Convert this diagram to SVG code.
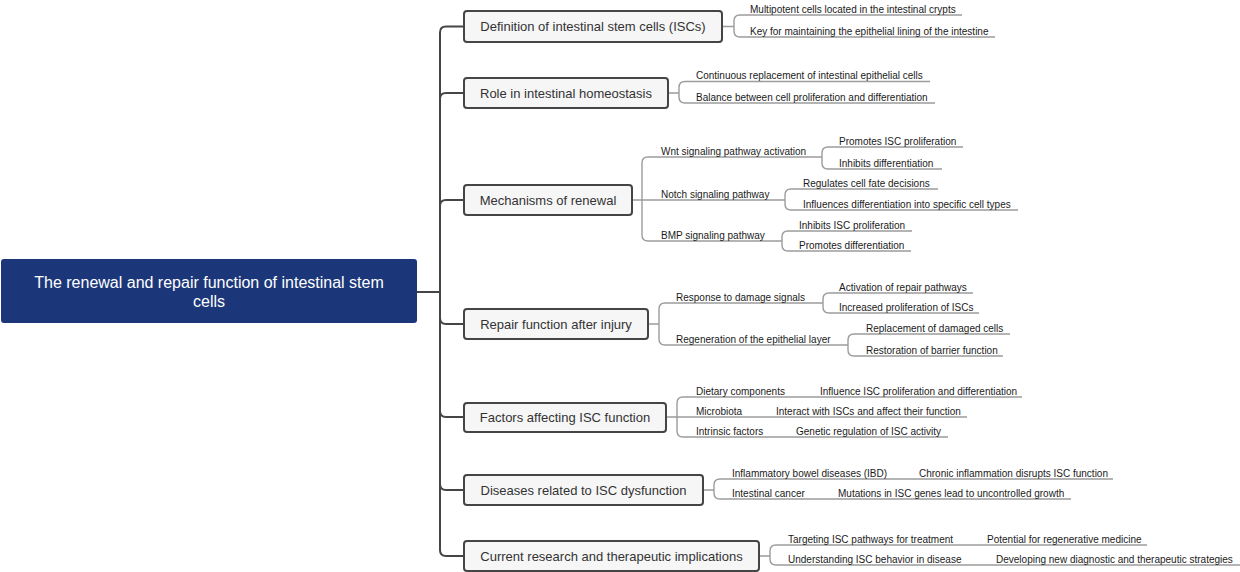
<svg xmlns="http://www.w3.org/2000/svg" width="1240" height="572" viewBox="0 0 1240 572">
<style>
.bg{fill:#ffffff}
.root{fill:#1b377a}
.rt{font-family:"Liberation Sans",Arial,sans-serif;font-size:16px;fill:#ffffff;text-anchor:middle}
.box{fill:#f6f6f6;stroke:#454545;stroke-width:2}
.bt{font-family:"Liberation Sans",Arial,sans-serif;font-size:13px;fill:#333333;text-anchor:middle}
.lt{font-family:"Liberation Sans",Arial,sans-serif;font-size:10px;fill:#1a1a1a}
.spine{fill:none;stroke:#454545;stroke-width:2}
.br{fill:none;stroke:#9c9c9c;stroke-width:1.4}
</style>
<rect class="bg" x="0" y="0" width="1240" height="572"/>
<g id="connectors">
<path class="spine" d="M417 292H440M440 292V32.5Q440 26.5 446 26.5H464M440 292V99Q440 93 446 93H464M440 292V206Q440 200 446 200H464M440 292V318Q440 324 446 324H464M440 292V411Q440 417 446 417H464M440 292V484Q440 490 446 490H464M440 292V550Q440 556 446 556H464"/>
<path class="br" d="M722 26.5H734V21Q734 15 740 15H962M734 26.5V31Q734 37 740 37H995"/>
<path class="br" d="M668 93H679V87.5Q679 81.5 685 81.5H930M679 93V97Q679 103 685 103H935"/>
<path class="br" d="M632 200H642V163Q642 157 648 157H822M642 200H785M642 200V235Q642 241 648 241H782"/>
<path class="br" d="M822 157V153Q822 147 828 147H963M822 157V163Q822 169 828 169H942"/>
<path class="br" d="M785 200V195Q785 189 791 189H938M785 200V204Q785 210 791 210H1018"/>
<path class="br" d="M782 241V237Q782 231 788 231H912M782 241V245Q782 251 788 251H911"/>
<path class="br" d="M648 324H659V309Q659 303 665 303H823M659 324V339Q659 345 665 345H848"/>
<path class="br" d="M823 303V299Q823 293 829 293H973M823 303V307Q823 313 829 313H979"/>
<path class="br" d="M848 345V340Q848 334 854 334H1010M848 345V350Q848 356 854 356H1003"/>
<path class="br" d="M666 417H677V403Q677 397 683 397H1022M677 417H967M677 417V431Q677 437 683 437H948"/>
<path class="br" d="M703 490H714V485Q714 479 720 479H1113M714 490V493Q714 499 720 499H1071"/>
<path class="br" d="M759 556H770V551Q770 545 776 545H1147M770 556V559Q770 565 776 565H1240"/>
</g>
<g id="root">
<rect class="root" x="1" y="259" width="416" height="64" rx="3"/>
<text class="rt" x="209" y="288">The renewal and repair function of intestinal stem</text>
<text class="rt" x="209" y="307">cells</text>
</g>
<g id="n1">
<rect class="box" x="464" y="11" width="258" height="31" rx="3"/>
<text class="bt" x="593" y="31">Definition of intestinal stem cells (ISCs)</text>
<text class="lt" x="750" y="12.5">Multipotent cells located in the intestinal crypts</text>
<text class="lt" x="750" y="34.5">Key for maintaining the epithelial lining of the intestine</text>
</g>
<g id="n2">
<rect class="box" x="464" y="78" width="204" height="30" rx="3"/>
<text class="bt" x="566" y="97.5">Role in intestinal homeostasis</text>
<text class="lt" x="696" y="79">Continuous replacement of intestinal epithelial cells</text>
<text class="lt" x="696" y="100.5">Balance between cell proliferation and differentiation</text>
</g>
<g id="n3">
<rect class="box" x="464" y="185" width="168" height="30" rx="3"/>
<text class="bt" x="548" y="204.5">Mechanisms of renewal</text>
<text class="lt" x="661" y="154.5">Wnt signaling pathway activation</text>
<text class="lt" x="839" y="144.5">Promotes ISC proliferation</text>
<text class="lt" x="839" y="166.5">Inhibits differentiation</text>
<text class="lt" x="661" y="197.5">Notch signaling pathway</text>
<text class="lt" x="803" y="186.5">Regulates cell fate decisions</text>
<text class="lt" x="803" y="207.5">Influences differentiation into specific cell types</text>
<text class="lt" x="661" y="238.5">BMP signaling pathway</text>
<text class="lt" x="799" y="228.5">Inhibits ISC proliferation</text>
<text class="lt" x="799" y="248.5">Promotes differentiation</text>
</g>
<g id="n4">
<rect class="box" x="464" y="309" width="184" height="30" rx="3"/>
<text class="bt" x="556" y="328.5">Repair function after injury</text>
<text class="lt" x="676" y="300.5">Response to damage signals</text>
<text class="lt" x="839" y="290.5">Activation of repair pathways</text>
<text class="lt" x="839" y="310.5">Increased proliferation of ISCs</text>
<text class="lt" x="676" y="342.5">Regeneration of the epithelial layer</text>
<text class="lt" x="866" y="331.5">Replacement of damaged cells</text>
<text class="lt" x="866" y="353.5">Restoration of barrier function</text>
</g>
<g id="n5">
<rect class="box" x="464" y="403" width="202" height="29" rx="3"/>
<text class="bt" x="565" y="422">Factors affecting ISC function</text>
<text class="lt" x="696" y="394.5">Dietary components</text>
<text class="lt" x="820" y="394.5">Influence ISC proliferation and differentiation</text>
<text class="lt" x="696" y="414.5">Microbiota</text>
<text class="lt" x="776" y="414.5">Interact with ISCs and affect their function</text>
<text class="lt" x="696" y="434.5">Intrinsic factors</text>
<text class="lt" x="796" y="434.5">Genetic regulation of ISC activity</text>
</g>
<g id="n6">
<rect class="box" x="464" y="475" width="239" height="30" rx="3"/>
<text class="bt" x="583.5" y="494.5">Diseases related to ISC dysfunction</text>
<text class="lt" x="732" y="476.5">Inflammatory bowel diseases (IBD)</text>
<text class="lt" x="919" y="476.5">Chronic inflammation disrupts ISC function</text>
<text class="lt" x="732" y="496.5">Intestinal cancer</text>
<text class="lt" x="838" y="496.5">Mutations in ISC genes lead to uncontrolled growth</text>
</g>
<g id="n7">
<rect class="box" x="464" y="541" width="295" height="30" rx="3"/>
<text class="bt" x="611.5" y="560.5">Current research and therapeutic implications</text>
<text class="lt" x="788" y="542.5">Targeting ISC pathways for treatment</text>
<text class="lt" x="987" y="542.5">Potential for regenerative medicine</text>
<text class="lt" x="788" y="562.5">Understanding ISC behavior in disease</text>
<text class="lt" x="996" y="562.5">Developing new diagnostic and therapeutic strategies</text>
</g>
</svg>
